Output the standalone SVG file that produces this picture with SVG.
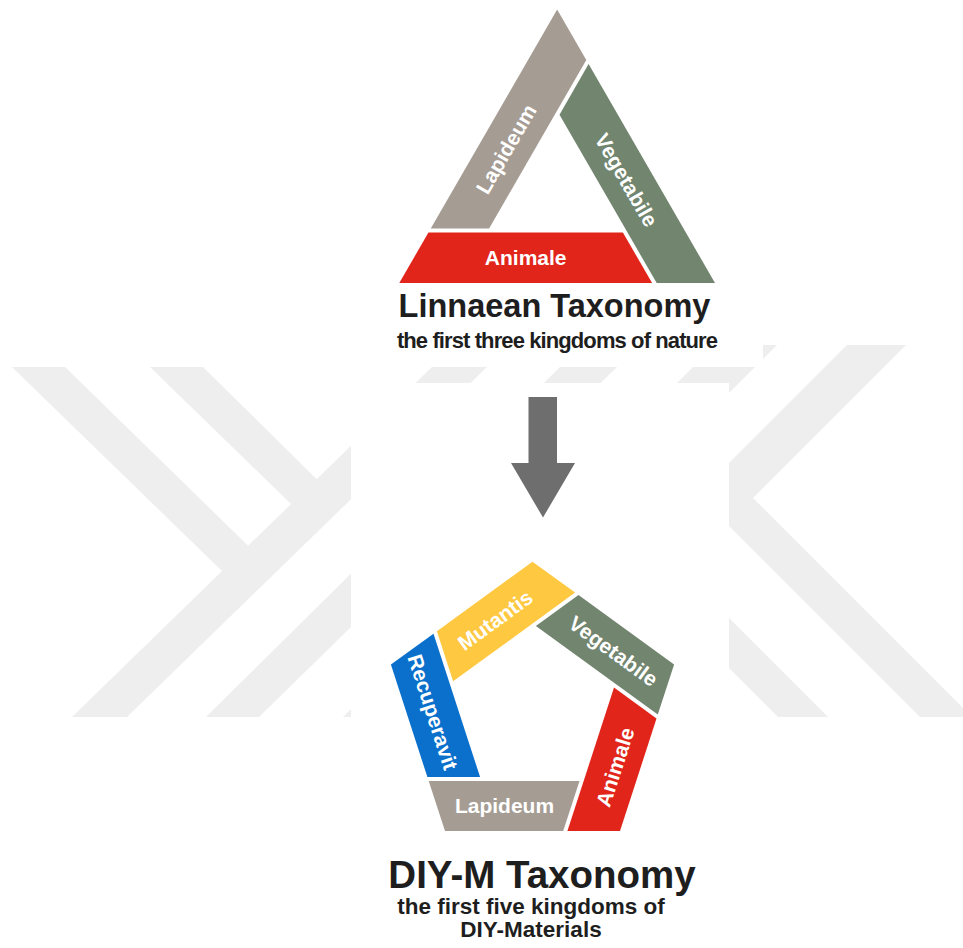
<svg xmlns="http://www.w3.org/2000/svg" width="963" height="948" viewBox="0 0 963 948">
<style>
.wm{fill:#eeeeee}
.bg{fill:#ffffff}
.lbl{font-family:"Liberation Sans",Arial,Helvetica,sans-serif;font-weight:bold;font-size:21px;fill:#ffffff;text-anchor:middle}
.ttl{font-family:"Liberation Sans",Arial,Helvetica,sans-serif;font-weight:bold;fill:#1e1e1e;text-anchor:middle}
.lap{fill:#a59c94}
.veg{fill:#72856f}
.ani{fill:#e1251b}
.mut{fill:#fec841}
.rec{fill:#0a70cc}
.arr{fill:#6e6e6e}
</style>
<rect x="0" y="0" width="963" height="948" fill="#ffffff"/>
<g id="watermark">
  <polygon class="wm" points="12,367 65,367 248.6,546.2 222,571"/>
  <polygon class="wm" points="150,367 203,367 317.5,480 291,504"/>
  <polygon class="wm" points="432,367 487,367 127,717 72,717"/>
  <polygon class="wm" points="560,367 617,367 259,717 206,717"/>
  <polygon class="wm" points="715,345 777,345 405,717 343,717"/>
  <polygon class="wm" points="847,345 906,345 729,522 729,463"/>
  <polygon class="wm" points="729,474 972,717 920,717 729,526"/>
  <polygon class="wm" points="729,618 828,717 778,717 729,668"/>
</g>
<rect class="bg" x="0" y="0" width="763" height="367"/>
<rect class="bg" x="351" y="383" width="378" height="565"/>
<g id="linnaean">
  <g id="tri-lapideum">
    <polygon class="lap" points="557.15,9.6 586.3,60.1 489.1,228.5 430.75,228.5"/>
    <text class="lbl" transform="translate(506,149) rotate(-60)" x="0" y="7.5">Lapideum</text>
  </g>
  <g id="tri-vegetabile">
    <polygon class="veg" points="715,283 656.7,283 559.5,114.65 588.6,64.1"/>
    <text class="lbl" transform="translate(626.5,180) rotate(60)" x="0" y="7.5">Vegetabile</text>
  </g>
  <g id="tri-animale">
    <polygon class="ani" points="399.3,283 428.45,232.5 622.9,232.5 652.1,283"/>
    <text class="lbl" x="525.7" y="265" font-size="20.5">Animale</text>
  </g>
  <g id="linnaean-title">
    <text class="ttl" x="554.5" y="316.7" font-size="32.5">Linnaean Taxonomy</text>
    <text class="ttl" x="557" y="348.3" font-size="22" letter-spacing="-0.9">the first three kingdoms of nature</text>
  </g>
</g>
<g id="connectors">
  <polygon class="arr" points="528.5,397 557,397 557,463 575,463 543,517.5 511,463 528.5,463"/>
</g>
<g id="diym">
  <g id="pent-mutantis">
    <polygon class="mut" points="532.5,561.7 575.1,592.6 453.1,681.3 436.9,631.2"/>
    <text class="lbl" transform="translate(495,620) rotate(-36)" x="0" y="7.5">Mutantis</text>
  </g>
  <g id="pent-vegetabile">
    <polygon class="veg" points="674.1,664.6 657.8,714.6 535.9,626 578.5,595.1"/>
    <text class="lbl" transform="translate(613.5,651) rotate(36)" x="0" y="7.5">Vegetabile</text>
  </g>
  <g id="pent-animale">
    <polygon class="ani" points="620,831.1 567.4,831.1 614,687.6 656.5,718.6"/>
    <text class="lbl" transform="translate(615,767) rotate(-72)" x="0" y="7.5">Animale</text>
  </g>
  <g id="pent-lapideum">
    <polygon class="lap" points="445,831.1 428.7,781.1 579.5,781.1 563.2,831.1"/>
    <text class="lbl" x="504.5" y="813">Lapideum</text>
  </g>
  <g id="pent-recuperavit">
    <polygon class="rec" points="390.9,664.6 433.5,633.7 480.1,777.1 427.4,777.1"/>
    <text class="lbl" transform="translate(433,712) rotate(72)" x="0" y="7.5">Recuperavit</text>
  </g>
  <g id="diym-title">
    <text class="ttl" x="542" y="888.3" font-size="38.5">DIY-M Taxonomy</text>
    <text class="ttl" x="531" y="914" font-size="22.5">the first five kingdoms of</text>
    <text class="ttl" x="531" y="936.7" font-size="22.5">DIY-Materials</text>
  </g>
</g>
</svg>
